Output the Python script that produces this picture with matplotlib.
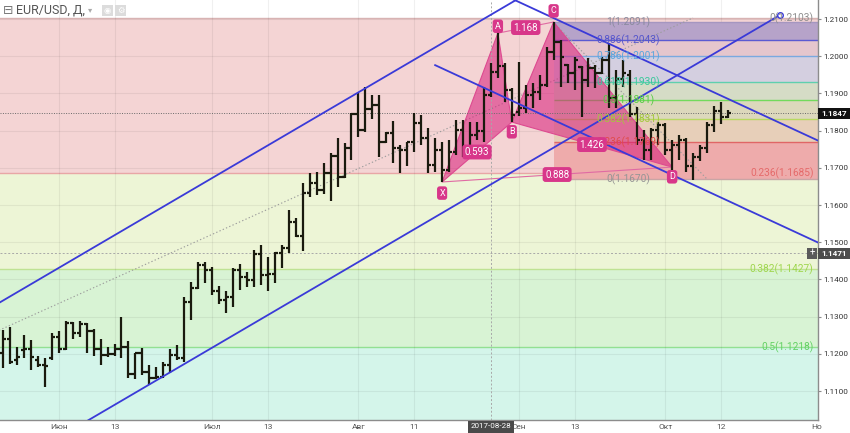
import matplotlib
matplotlib.use("Agg")
import matplotlib.pyplot as plt
from matplotlib.collections import LineCollection
from matplotlib.patches import Polygon, Rectangle

plt.rcParams['font.family'] = ['Roboto', 'DejaVu Sans']

# ---------------------------------------------------------------- data
# EUR/USD daily bars, 2017-05-22 .. 2017-10-13 (one entry per trading day)
opens = [1.1202, 1.1240, 1.1183, 1.1210, 1.1213, 1.1183, 1.1169, 1.1188, 1.1245, 1.1213,
         1.1283, 1.1256, 1.1280, 1.1261, 1.1213, 1.1196, 1.1199, 1.1213, 1.1218, 1.1145,
         1.1202, 1.1151, 1.1135, 1.1137, 1.1169, 1.1196, 1.1188, 1.1339, 1.1377, 1.1439,
         1.1425, 1.1369, 1.1345, 1.1353, 1.1425, 1.1406, 1.1398, 1.1468, 1.1412, 1.1414,
         1.1471, 1.1484, 1.1554, 1.1517, 1.1632, 1.1659, 1.1640, 1.1686, 1.1732, 1.1675,
         1.1753, 1.1845, 1.1802, 1.1858, 1.1869, 1.1769, 1.1794, 1.1753, 1.1748, 1.1769,
         1.1820, 1.1780, 1.1708, 1.1748, 1.1694, 1.1742, 1.1802, 1.1753, 1.1788, 1.1799,
         1.1896, 1.1958, 1.1974, 1.1909, 1.1850, 1.1861, 1.1896, 1.1904, 1.1923, 1.2011,
         1.2038, 1.1976, 1.1955, 1.1971, 1.1936, 1.1968, 1.1955, 1.1990, 1.1888, 1.1940,
         1.1950, 1.1846, 1.1775, 1.1748, 1.1802, 1.1815, 1.1748, 1.1761, 1.1775, 1.1705,
         1.1730, 1.1753, 1.1815, 1.1853, 1.1836]
highs = [1.1264, 1.1272, 1.1218, 1.1251, 1.1237, 1.1194, 1.1188, 1.1256, 1.1261, 1.1288,
         1.1285, 1.1288, 1.1283, 1.1267, 1.1240, 1.1218, 1.1226, 1.1299, 1.1234, 1.1202,
         1.1215, 1.1169, 1.1164, 1.1178, 1.1213, 1.1223, 1.1353, 1.1393, 1.1447, 1.1447,
         1.1433, 1.1382, 1.1369, 1.1431, 1.1441, 1.1420, 1.1479, 1.1492, 1.1460, 1.1474,
         1.1492, 1.1587, 1.1565, 1.1659, 1.1686, 1.1689, 1.1713, 1.1740, 1.1780, 1.1767,
         1.1847, 1.1901, 1.1917, 1.1896, 1.1896, 1.1796, 1.1826, 1.1761, 1.1769, 1.1847,
         1.1842, 1.1807, 1.1780, 1.1769, 1.1775, 1.1828, 1.1828, 1.1823, 1.1823, 1.1917,
         1.1982, 1.2065, 1.1982, 1.1915, 1.1984, 1.1923, 1.1928, 1.1949, 1.2025, 1.2092,
         1.2044, 1.1980, 1.1998, 1.1975, 1.1995, 1.1976, 1.1998, 1.2035, 1.1963, 1.1990,
         1.1963, 1.1863, 1.1802, 1.1807, 1.1823, 1.1820, 1.1775, 1.1788, 1.1780, 1.1740,
         1.1761, 1.1823, 1.1866, 1.1877, 1.1855]
lows = [1.1161, 1.1172, 1.1169, 1.1188, 1.1156, 1.1164, 1.1110, 1.1183, 1.1202, 1.1210,
        1.1240, 1.1245, 1.1202, 1.1194, 1.1169, 1.1191, 1.1194, 1.1188, 1.1135, 1.1132,
        1.1143, 1.1116, 1.1132, 1.1135, 1.1148, 1.1183, 1.1178, 1.1291, 1.1374, 1.1390,
        1.1358, 1.1334, 1.1310, 1.1326, 1.1372, 1.1380, 1.1380, 1.1385, 1.1369, 1.1390,
        1.1431, 1.1471, 1.1514, 1.1476, 1.1621, 1.1627, 1.1630, 1.1611, 1.1648, 1.1673,
        1.1721, 1.1783, 1.1796, 1.1831, 1.1729, 1.1767, 1.1713, 1.1686, 1.1705, 1.1742,
        1.1761, 1.1686, 1.1689, 1.1662, 1.1689, 1.1734, 1.1729, 1.1748, 1.1775, 1.1769,
        1.1890, 1.1941, 1.1877, 1.1823, 1.1839, 1.1847, 1.1861, 1.1882, 1.1917, 1.1990,
        1.1917, 1.1928, 1.1909, 1.1837, 1.1917, 1.1915, 1.1952, 1.1861, 1.1861, 1.1917,
        1.1836, 1.1761, 1.1721, 1.1721, 1.1761, 1.1734, 1.1694, 1.1721, 1.1689, 1.1667,
        1.1718, 1.1740, 1.1796, 1.1818, 1.1834]
closes = [1.1240, 1.1178, 1.1191, 1.1213, 1.1191, 1.1169, 1.1167, 1.1245, 1.1213, 1.1283,
          1.1256, 1.1280, 1.1261, 1.1213, 1.1196, 1.1199, 1.1213, 1.1218, 1.1145, 1.1202,
          1.1151, 1.1135, 1.1137, 1.1169, 1.1196, 1.1188, 1.1339, 1.1377, 1.1439, 1.1425,
          1.1369, 1.1345, 1.1353, 1.1425, 1.1406, 1.1398, 1.1468, 1.1412, 1.1414, 1.1471,
          1.1484, 1.1554, 1.1517, 1.1632, 1.1659, 1.1640, 1.1686, 1.1732, 1.1675, 1.1753,
          1.1845, 1.1802, 1.1858, 1.1869, 1.1769, 1.1794, 1.1753, 1.1748, 1.1769, 1.1820,
          1.1780, 1.1708, 1.1748, 1.1694, 1.1742, 1.1802, 1.1753, 1.1788, 1.1799, 1.1896,
          1.1958, 1.1974, 1.1909, 1.1842, 1.1861, 1.1896, 1.1904, 1.1923, 1.2011, 1.2038,
          1.1998, 1.1955, 1.1990, 1.1936, 1.1968, 1.1955, 1.1990, 1.1888, 1.1940, 1.1955,
          1.1846, 1.1775, 1.1748, 1.1802, 1.1815, 1.1748, 1.1761, 1.1775, 1.1705, 1.1730,
          1.1753, 1.1815, 1.1853, 1.1836, 1.1847]

last_price = 1.1847
cursor_price = 1.1471
cursor_bar = 70
cursor_date = "2017-08-28"

# time axis labels (bar index -> label)
tick_bars = [8, 16, 30, 38, 51, 59, 74, 82, 95, 103]
tick_labels = ["Июн", "13", "Июл", "13", "Авг", "11", "Сен", "13", "Окт", "12"]
price_ticks = [1.11, 1.12, 1.13, 1.14, 1.15, 1.16, 1.17, 1.18, 1.19, 1.20, 1.21]

# large Fibonacci retracement (levels and their prices)
fib_big_ratios = ["0", "0.236", "0.382", "0.5", "0.618"]
fib_big_prices = [1.2103, 1.1685, 1.1427, 1.1218, 1.1008]
fib_big_fills = ["#f4d4d4", "#edf5d6", "#d8f3d4", "#d4f5ea"]
fib_big_lines = ["#d9b4b4", "#e8a6a6", "#bfe293", "#92e092", "#7fd6c0"]
fib_big_text = ["#8f8f8f", "#e56a6a", "#9fd64e", "#63d163", "#63d1b0"]
fib_big_trend = ([-111, 99], [1.0332, 1.2103])

# small Fibonacci retracement from C down
fib_sm_ratios = ["1", "0.886", "0.786", "0.618", "0.5", "0.382", "0.236", "0"]
fib_sm_prices = [1.2091, 1.2043, 1.2001, 1.1930, 1.1881, 1.1831, 1.1769, 1.1670]
fib_sm_fills = ["#b6a3c9", "#e5c6cd", "#d4cfe0", "#d5dcc6", "#dcd8bc", "#e7cfb9", "#eeabab"]
fib_sm_lines = ["#a596c0", "#5a5ad2", "#7aa9e0", "#5fcfae", "#72da5c", "#b8d960", "#e06666", "#c9a5a5"]
fib_sm_text = ["#8a8a9e", "#5656cc", "#5aa6dd", "#38c99a", "#57cc44", "#a3c83d", "#e04c4c", "#959595"]
fib_sm_start = 79
fib_sm_trend = ([79, 101], [1.2091, 1.1670])

# XABCD harmonic pattern
pattern_names = ["X", "A", "B", "C", "D"]
pattern_bars = [63, 71, 73, 79, 96]
pattern_prices = [1.1662, 1.2062, 1.1823, 1.2092, 1.1702]
pattern_ratios = ["0.593", "1.168", "1.426", "0.888"]

# channels (bar index, price) anchors
asc_lower = ([10, 111.5], [1.0997, 1.2111])
asc_offset = 0.0456
desc_lower = ([62, 118], [1.1976, 1.1490])
desc_offset = 0.0274

# ---------------------------------------------------------------- figure
W, H = 850, 433
fig = plt.figure(figsize=(W / 100, H / 100), dpi=100)
fig.patch.set_facecolor("white")
ax = fig.add_axes([0, 13 / H, 818 / W, 420 / H])
ax.set_facecolor("white")
XMIN, XMAX = -0.43, 116.93
YMIN, YMAX = 1.10222, 1.21511
ax.set_xlim(XMIN, XMAX)
ax.set_ylim(YMIN, YMAX)

# big fib bands over the whole chart width
for k in range(len(fib_big_fills)):
    ax.axhspan(fib_big_prices[k + 1], fib_big_prices[k], color=fib_big_fills[k], lw=0, zorder=0)
for k, p in enumerate(fib_big_prices):
    ax.axhline(p, color=fib_big_lines[k], lw=1.0, zorder=1)
for k in range(4):
    ax.text(116.3, fib_big_prices[k], f"{fib_big_ratios[k]}({fib_big_prices[k]:.4f})",
            ha="right", va="center", fontsize=7.3, color=fib_big_text[k], zorder=9)

# grid
for p in price_ticks:
    ax.axhline(p, color="#000000", alpha=0.06, lw=0.8, zorder=1)
for b in tick_bars:
    ax.axvline(b, color="#000000", alpha=0.06, lw=0.8, zorder=1)

# small fib bands starting at C, extended right
for k in range(len(fib_sm_fills)):
    ax.add_patch(Rectangle((fib_sm_start, fib_sm_prices[k + 1]), XMAX + 5 - fib_sm_start,
                           fib_sm_prices[k] - fib_sm_prices[k + 1],
                           facecolor=fib_sm_fills[k], lw=0, zorder=1.5))
for k, p in enumerate(fib_sm_prices):
    ax.hlines(p, fib_sm_start, XMAX + 5, color=fib_sm_lines[k], lw=1.0, zorder=1.6)
    ax.text(89.7, p, f"{fib_sm_ratios[k]}({p:.4f})", ha="center", va="center",
            fontsize=7.3, color=fib_sm_text[k], zorder=9)

# fib trend lines (dotted)
ax.plot(*fib_big_trend, color="#9c9c9c", lw=0.8, ls=(0, (1.2, 2)), zorder=2)
ax.plot(*fib_sm_trend, color="#9c9c9c", lw=0.8, ls=(0, (1.2, 2)), zorder=2)

# harmonic pattern triangles
pts = list(zip(pattern_bars, pattern_prices))
pink = "#d81b7a"
for tri in ([0, 1, 2], [2, 3, 4]):
    ax.add_patch(Polygon([pts[j] for j in tri], closed=True, facecolor=pink, alpha=0.55,
                         edgecolor="none", zorder=3))
    ax.add_patch(Polygon([pts[j] for j in tri], closed=True, facecolor="none",
                         edgecolor="#dd4a90", lw=0.8, zorder=3.1))
for a, b in ((1, 3), (0, 4)):
    ax.plot([pts[a][0], pts[b][0]], [pts[a][1], pts[b][1]], color="#e06aa3", lw=0.8, zorder=3.1)

# current price and cursor lines
ax.axhline(last_price, color="#6a6a6a", lw=0.7, ls=(0, (1, 1.5)), zorder=4)
ax.axhline(cursor_price, color="#a8a8a8", lw=0.7, ls=(0, (2, 2)), zorder=4)
ax.axvline(cursor_bar, color="#a8a8a8", lw=0.7, ls=(0, (2, 2)), zorder=4)

# OHLC bars
segs = []
for i, (o, h, l, c) in enumerate(zip(opens, highs, lows, closes)):
    segs.append([(i, l), (i, h)])
    segs.append([(i - 0.45, o), (i, o)])
    segs.append([(i, c), (i + 0.45, c)])
ax.add_collection(LineCollection(segs, colors="#1a1a0e", linewidths=1.6, capstyle="butt", zorder=5))

# channels
blue = "#3a3ad8"
def line_at(anchor, x, off=0.0):
    (x0, x1), (y0, y1) = anchor
    return y0 + (y1 - y0) * (x - x0) / (x1 - x0) + off

ax.plot(asc_lower[0], asc_lower[1], color=blue, lw=1.3, zorder=6)
ax.plot(asc_lower[0][1], asc_lower[1][1], "o", ms=4, mfc="white", mec=blue, mew=1.0, zorder=6)
ax.plot([-2, 80], [line_at(asc_lower, -2, asc_offset), line_at(asc_lower, 80, asc_offset)],
        color=blue, lw=1.3, zorder=6)
ax.plot(desc_lower[0], desc_lower[1], color=blue, lw=1.3, zorder=6)
ax.plot([70, 118], [line_at(desc_lower, 70, desc_offset), line_at(desc_lower, 118, desc_offset)],
        color=blue, lw=1.3, zorder=6)

# pattern labels
label_fc = "#d8378a"
offsets = [(0, -8), (0, 5), (0, -7), (0, 8), (0, -7)]
for name, (x, y), (dx, dy) in zip(pattern_names, pts, offsets):
    ax.annotate(name, (x, y), xytext=(dx, dy), textcoords="offset points", ha="center",
                va="center", fontsize=6.5, color="white", zorder=9,
                bbox=dict(boxstyle="round,pad=0.25,rounding_size=0.3", fc=label_fc, ec="none"))
ratio_pairs = [(0, 2), (1, 3), (2, 4), (0, 4)]
for txt, (a, b) in zip(pattern_ratios, ratio_pairs):
    mx = (pts[a][0] + pts[b][0]) / 2
    my = (pts[a][1] + pts[b][1]) / 2
    ax.text(mx, my, txt, ha="center", va="center", fontsize=7, color="white", zorder=9,
            bbox=dict(boxstyle="round,pad=0.25,rounding_size=0.3", fc=label_fc, ec="none"))

# axes styling
for s in ("top", "left"):
    ax.spines[s].set_visible(False)
for s in ("right", "bottom"):
    ax.spines[s].set_color("#8c8c8c")
    ax.spines[s].set_linewidth(1.0)
ax.yaxis.tick_right()
ax.set_yticks(price_ticks)
ax.set_yticklabels([f"{p:.4f}" for p in price_ticks])
ax.tick_params(axis="y", length=2.5, width=0.8, color="#8c8c8c", labelsize=5.9,
               labelcolor="#333333", pad=1.5)
ax.set_xticks(tick_bars)
ax.set_xticklabels(tick_labels)
ax.tick_params(axis="x", length=0, labelsize=6.0, labelcolor="#555555", pad=3)
fig.text(811 / W, 1 - 427 / H, "Но", ha="left", va="center", fontsize=6.0, color="#555555")

# price markers on the scale
def ypix(p):
    return ax.transData.transform((0, p))[1]

for p, fc, txt in ((last_price, "#111111", f"{last_price:.4f}"), (cursor_price, "#4d4d4d", f"{cursor_price:.4f}")):
    yp = ypix(p)
    fig.add_artist(Rectangle((818 / W, (yp - 5.5) / H), 32 / W, 11 / H, transform=fig.transFigure,
                             facecolor=fc, edgecolor="none", zorder=10))
    fig.text(834 / W, yp / H, txt, ha="center", va="center", fontsize=5.9, color="white",
             fontweight="bold", zorder=11)
yp = ypix(cursor_price)
fig.add_artist(Rectangle((807 / W, (yp - 5.5) / H), 10 / W, 11 / H, transform=fig.transFigure,
                         facecolor="#5a5a5a", edgecolor="none", zorder=10))
fig.text(812 / W, yp / H, "+", ha="center", va="center", fontsize=7, color="white", zorder=11)

# cursor date marker
xp = ax.transData.transform((cursor_bar, 0))[0]
fig.add_artist(Rectangle(((xp - 23) / W, 0), 46 / W, 12.5 / H, transform=fig.transFigure,
                         facecolor="#4a4a4a", edgecolor="none", zorder=10))
fig.text(xp / W, 6.5 / H, cursor_date, ha="center", va="center", fontsize=5.8, color="white", zorder=11)

# legend header
fig.text(3 / W, 1 - 10 / H, "⊟", ha="left", va="center", fontsize=9, color="#777777",
         family=["DejaVu Sans"])
fig.text(16 / W, 1 - 10 / H, "EUR/USD, Д,", ha="left", va="center", fontsize=9, color="#555555")
fig.text(88 / W, 1 - 10 / H, "▾", ha="left", va="center", fontsize=6, color="#aaaaaa",
         family=["DejaVu Sans"])
for x0, g in ((102, "◉"), (115, "⚙")):
    fig.add_artist(Rectangle((x0 / W, 1 - 16 / H), 11 / W, 11 / H, transform=fig.transFigure,
                             facecolor="#dcdcdc", edgecolor="none", zorder=10))
    fig.text((x0 + 5.5) / W, 1 - 10.5 / H, g, ha="center", va="center", fontsize=6,
             color="white", family=["DejaVu Sans"], zorder=11)

fig.savefig("out.png", dpi=100)
